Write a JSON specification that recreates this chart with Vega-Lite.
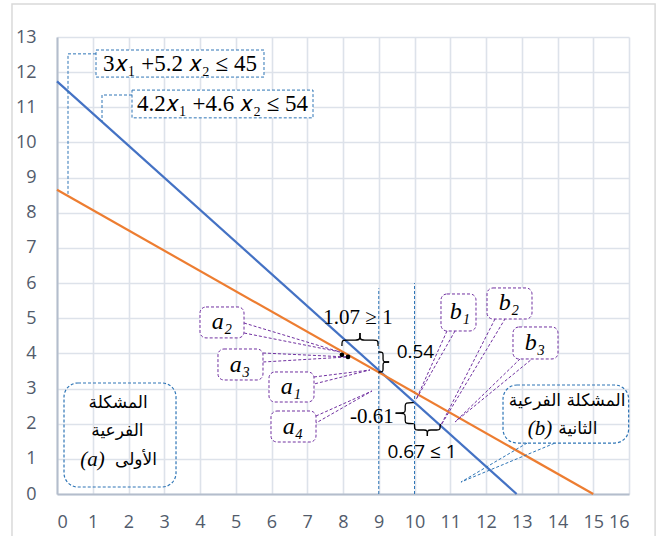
{
  "$schema": "https://vega.github.io/schema/vega-lite/v6.json",
  "width": 572,
  "height": 457,
  "autosize": "none",
  "padding": {"left": 57, "top": 37, "right": 29, "bottom": 42},
  "background": "white",
  "config": {
    "view": {"stroke": null},
    "axis": {
      "grid": true,
      "gridColor": "#dde2ea",
      "gridWidth": 1.6,
      "domainColor": "#b4bdcc",
      "domainWidth": 2,
      "ticks": false,
      "tickSize": 0,
      "labelOverlap": false,
      "labelFont": "Open Sans",
      "labelFontSize": 18,
      "labelColor": "#525b6b"
    }
  },
  "datasets": {
    "frame": [{"x": -1.259, "x2": 16.73, "y": 13.94, "y2": -1.5}],
    "constraints": [
      {"s": "blue", "x": 0, "y": 11.739},
      {"s": "blue", "x": 12.857, "y": 0},
      {"s": "orange", "x": 0, "y": 8.654},
      {"s": "orange", "x": 15, "y": 0}
    ],
    "branchLines": [
      {"x": 9, "y": 0, "y2": 5.85},
      {"x": 10, "y": 0, "y2": 6.0}
    ],
    "blueLeaders": [
      {"id": "e1", "o": 1, "x": 1.091, "y": 12.52},
      {"id": "e1", "o": 2, "x": 0.308, "y": 12.52},
      {"id": "e1", "o": 3, "x": 0.308, "y": 8.48},
      {"id": "e2", "o": 1, "x": 2.098, "y": 11.35},
      {"id": "e2", "o": 2, "x": 1.259, "y": 11.35},
      {"id": "e2", "o": 3, "x": 1.259, "y": 10.59},
      {"id": "pb", "o": 1, "x": 13.15, "y": 1.45},
      {"id": "pb", "o": 2, "x": 11.3, "y": 0.34},
      {"id": "pb", "o": 3, "x": 13.93, "y": 1.45}
    ],
    "eqBoxes": [
      {"x": 1.091, "x2": 5.79, "y": 12.63, "y2": 11.86},
      {"x": 2.098, "x2": 7.161, "y": 11.49, "y2": 10.7}
    ],
    "eqText": [
      {"x": 3.44, "y": 12.23, "t": "3𝑥₁ +5.2 𝑥₂ ≤ 45"},
      {"x": 4.63, "y": 11.08, "t": "4.2𝑥₁ +4.6 𝑥₂ ≤ 54"}
    ],
    "problemBoxes": [
      {"x": 0.196, "x2": 3.329, "y": 3.158, "y2": 0.199},
      {"x": 12.476, "x2": 15.99, "y": 3.1, "y2": 1.45}
    ],
    "arabicText": [
      {"x": 1.71, "y": 2.59, "t": "المشكلة"},
      {"x": 1.69, "y": 1.79, "t": "الفرعية"},
      {"x": 2.21, "y": 0.967, "t": "الأولى"},
      {"x": 14.27, "y": 2.65, "t": "المشكلة الفرعية"},
      {"x": 14.57, "y": 1.85, "t": "الثانية"}
    ],
    "latinTags": [
      {"x": 0.99, "y": 0.967, "t": "(a)"},
      {"x": 13.51, "y": 1.85, "t": "(b)"}
    ],
    "nodeBoxes": [
      {"n": "a2", "x": 4.0, "x2": 5.231, "y": 5.32, "y2": 4.44},
      {"n": "a3", "x": 4.503, "x2": 5.762, "y": 4.125, "y2": 3.243},
      {"n": "a1", "x": 5.93, "x2": 7.189, "y": 3.471, "y2": 2.617},
      {"n": "a4", "x": 5.986, "x2": 7.245, "y": 2.361, "y2": 1.479},
      {"n": "b1", "x": 10.741, "x2": 11.72, "y": 5.69, "y2": 4.637},
      {"n": "b2", "x": 12.028, "x2": 13.287, "y": 5.861, "y2": 4.979},
      {"n": "b3", "x": 12.755, "x2": 14.014, "y": 4.751, "y2": 3.841}
    ],
    "nodeText": [
      {"x": 4.615, "y": 4.89, "t": "a₂"},
      {"x": 5.119, "y": 3.67, "t": "a₃"},
      {"x": 6.545, "y": 3.044, "t": "a₁"},
      {"x": 6.601, "y": 1.906, "t": "a₄"},
      {"x": 11.273, "y": 5.178, "t": "b₁"},
      {"x": 12.643, "y": 5.434, "t": "b₂"},
      {"x": 13.371, "y": 4.296, "t": "b₃"}
    ],
    "nodeWedges": [
      {"id": "a2", "o": 1, "x": 5.231, "y": 4.865},
      {"id": "a2", "o": 2, "x": 7.916, "y": 4.04},
      {"id": "a2", "o": 3, "x": 5.231, "y": 4.58},
      {"id": "a3", "o": 1, "x": 5.762, "y": 4.011},
      {"id": "a3", "o": 2, "x": 8.112, "y": 3.898},
      {"id": "a3", "o": 3, "x": 5.762, "y": 3.755},
      {"id": "a1", "o": 1, "x": 7.189, "y": 3.329},
      {"id": "a1", "o": 2, "x": 8.755, "y": 3.528},
      {"id": "a1", "o": 3, "x": 7.189, "y": 3.129},
      {"id": "a4", "o": 1, "x": 7.245, "y": 2.219},
      {"id": "a4", "o": 2, "x": 8.811, "y": 2.93},
      {"id": "a4", "o": 3, "x": 7.245, "y": 2.02},
      {"id": "b1", "o": 1, "x": 10.909, "y": 4.637},
      {"id": "b1", "o": 2, "x": 10.05, "y": 2.7},
      {"id": "b1", "o": 3, "x": 11.133, "y": 4.637},
      {"id": "b2", "o": 1, "x": 12.252, "y": 4.979},
      {"id": "b2", "o": 2, "x": 10.713, "y": 1.906},
      {"id": "b2", "o": 3, "x": 12.531, "y": 4.979},
      {"id": "b3", "o": 1, "x": 12.951, "y": 3.841},
      {"id": "b3", "o": 2, "x": 11.133, "y": 2.048},
      {"id": "b3", "o": 3, "x": 13.287, "y": 3.841}
    ],
    "dots": [
      {"x": 7.97, "y": 3.96},
      {"x": 8.14, "y": 3.9}
    ],
    "braces": [
      {"id": "A1", "o": 1, "x": 7.97, "y": 4.21},
      {"id": "A1", "o": 2, "x": 7.97, "y": 4.38},
      {"id": "A1", "o": 3, "x": 8.07, "y": 4.38},
      {"id": "A1", "o": 4, "x": 8.375, "y": 4.38},
      {"id": "A1", "o": 5, "x": 8.475, "y": 4.38},
      {"id": "A1", "o": 6, "x": 8.475, "y": 4.58},
      {"id": "A2", "o": 1, "x": 8.98, "y": 4.21},
      {"id": "A2", "o": 2, "x": 8.98, "y": 4.38},
      {"id": "A2", "o": 3, "x": 8.88, "y": 4.38},
      {"id": "A2", "o": 4, "x": 8.575, "y": 4.38},
      {"id": "A2", "o": 5, "x": 8.475, "y": 4.38},
      {"id": "A2", "o": 6, "x": 8.475, "y": 4.58},
      {"id": "B1", "o": 1, "x": 8.99, "y": 4.04},
      {"id": "B1", "o": 2, "x": 9.12, "y": 4.04},
      {"id": "B1", "o": 3, "x": 9.12, "y": 3.96},
      {"id": "B1", "o": 4, "x": 9.12, "y": 3.835},
      {"id": "B1", "o": 5, "x": 9.12, "y": 3.755},
      {"id": "B1", "o": 6, "x": 9.29, "y": 3.755},
      {"id": "B2", "o": 1, "x": 8.99, "y": 3.47},
      {"id": "B2", "o": 2, "x": 9.12, "y": 3.47},
      {"id": "B2", "o": 3, "x": 9.12, "y": 3.55},
      {"id": "B2", "o": 4, "x": 9.12, "y": 3.675},
      {"id": "B2", "o": 5, "x": 9.12, "y": 3.755},
      {"id": "B2", "o": 6, "x": 9.29, "y": 3.755},
      {"id": "C1", "o": 1, "x": 9.98, "y": 2.6},
      {"id": "C1", "o": 2, "x": 9.74, "y": 2.6},
      {"id": "C1", "o": 3, "x": 9.74, "y": 2.52},
      {"id": "C1", "o": 4, "x": 9.74, "y": 2.38},
      {"id": "C1", "o": 5, "x": 9.74, "y": 2.3},
      {"id": "C1", "o": 6, "x": 9.47, "y": 2.3},
      {"id": "C2", "o": 1, "x": 9.98, "y": 2.0},
      {"id": "C2", "o": 2, "x": 9.74, "y": 2.0},
      {"id": "C2", "o": 3, "x": 9.74, "y": 2.08},
      {"id": "C2", "o": 4, "x": 9.74, "y": 2.22},
      {"id": "C2", "o": 5, "x": 9.74, "y": 2.3},
      {"id": "C2", "o": 6, "x": 9.47, "y": 2.3},
      {"id": "D1", "o": 1, "x": 10.0, "y": 1.99},
      {"id": "D1", "o": 2, "x": 10.0, "y": 1.82},
      {"id": "D1", "o": 3, "x": 10.08, "y": 1.82},
      {"id": "D1", "o": 4, "x": 10.28, "y": 1.82},
      {"id": "D1", "o": 5, "x": 10.36, "y": 1.82},
      {"id": "D1", "o": 6, "x": 10.36, "y": 1.65},
      {"id": "D2", "o": 1, "x": 10.72, "y": 1.99},
      {"id": "D2", "o": 2, "x": 10.72, "y": 1.82},
      {"id": "D2", "o": 3, "x": 10.64, "y": 1.82},
      {"id": "D2", "o": 4, "x": 10.44, "y": 1.82},
      {"id": "D2", "o": 5, "x": 10.36, "y": 1.82},
      {"id": "D2", "o": 6, "x": 10.36, "y": 1.65}
    ],
    "noteCenterSerif": [{"x": 8.42, "y": 5.007, "t": "1.07 ≥ 1"}],
    "noteRightSerif": [{"x": 9.42, "y": 2.19, "t": "-0.61"}],
    "noteLeftSans": [{"x": 9.5, "y": 4.04, "t": "0.54"}],
    "noteCenterSans": [{"x": 10.21, "y": 1.195, "t": "0.67 ≤ 1"}]
  },
  "encoding": {
    "x": {"field": "x", "type": "quantitative", "scale": {"domain": [0, 16], "nice": false, "zero": false}, "axis": {"title": null, "values": [0,1,2,3,4,5,6,7,8,9,10,11,12,13,14,15,16], "labelPadding": 19}},
    "y": {"field": "y", "type": "quantitative", "scale": {"domain": [0, 13], "nice": false, "zero": false}, "axis": {"title": null, "values": [0,1,2,3,4,5,6,7,8,9,10,11,12,13], "labelPadding": 21}}
  },
  "layer": [
    {
      "data": {"name": "frame"},
      "mark": {"type": "rect", "fill": null, "stroke": "#d9d9d9", "strokeWidth": 1.5},
      "encoding": {"x2": {"field": "x2"}, "y2": {"field": "y2"}}
    },
    {
      "data": {"name": "branchLines"},
      "mark": {"type": "rule", "stroke": "#2e75b6", "strokeWidth": 1, "strokeDash": [3, 2]},
      "encoding": {"y2": {"field": "y2"}}
    },
    {
      "data": {"name": "constraints"},
      "mark": {"type": "line", "strokeWidth": 2.2},
      "encoding": {
        "color": {"field": "s", "type": "nominal", "scale": {"domain": ["blue", "orange"], "range": ["#4472c4", "#ed7d31"]}, "legend": null}
      }
    },
    {
      "data": {"name": "blueLeaders"},
      "mark": {"type": "line", "stroke": "#2e75b6", "strokeWidth": 1, "strokeDash": [3, 2]},
      "encoding": {"detail": {"field": "id"}, "order": {"field": "o"}}
    },
    {
      "data": {"name": "eqBoxes"},
      "mark": {"type": "rect", "fill": "white", "stroke": "#2e75b6", "strokeWidth": 1, "strokeDash": [3, 2]},
      "encoding": {"x2": {"field": "x2"}, "y2": {"field": "y2"}}
    },
    {
      "data": {"name": "eqText"},
      "mark": {"type": "text", "font": "Liberation Serif", "fontSize": 23, "color": "black", "align": "center", "baseline": "middle"},
      "encoding": {"text": {"field": "t"}}
    },
    {
      "data": {"name": "problemBoxes"},
      "mark": {"type": "rect", "fill": null, "stroke": "#2e75b6", "strokeWidth": 1.2, "strokeDash": [3, 2], "cornerRadius": 14},
      "encoding": {"x2": {"field": "x2"}, "y2": {"field": "y2"}}
    },
    {
      "data": {"name": "arabicText"},
      "mark": {"type": "text", "font": "DejaVu Sans", "fontSize": 17, "color": "black", "align": "center", "baseline": "middle"},
      "encoding": {"text": {"field": "t"}}
    },
    {
      "data": {"name": "latinTags"},
      "mark": {"type": "text", "font": "Liberation Serif", "fontSize": 21, "fontStyle": "italic", "color": "black", "align": "center", "baseline": "middle"},
      "encoding": {"text": {"field": "t"}}
    },
    {
      "data": {"name": "nodeWedges"},
      "mark": {"type": "line", "stroke": "#7030a0", "strokeWidth": 1, "strokeDash": [3, 2]},
      "encoding": {"detail": {"field": "id"}, "order": {"field": "o"}}
    },
    {
      "data": {"name": "nodeBoxes"},
      "mark": {"type": "rect", "fill": "white", "stroke": "#7030a0", "strokeWidth": 1, "strokeDash": [3, 2], "cornerRadius": 6},
      "encoding": {"x2": {"field": "x2"}, "y2": {"field": "y2"}}
    },
    {
      "data": {"name": "nodeText"},
      "mark": {"type": "text", "font": "Liberation Serif", "fontSize": 24, "fontStyle": "italic", "color": "black", "align": "center", "baseline": "middle"},
      "encoding": {"text": {"field": "t"}}
    },
    {
      "data": {"name": "braces"},
      "mark": {"type": "line", "stroke": "black", "strokeWidth": 1.3, "interpolate": "basis"},
      "encoding": {"detail": {"field": "id"}, "order": {"field": "o"}}
    },
    {
      "data": {"name": "dots"},
      "mark": {"type": "point", "filled": true, "color": "black", "size": 22, "opacity": 1}
    },
    {
      "data": {"name": "noteCenterSerif"},
      "mark": {"type": "text", "font": "Liberation Serif", "fontSize": 21, "color": "black", "align": "center", "baseline": "middle"},
      "encoding": {"text": {"field": "t"}}
    },
    {
      "data": {"name": "noteRightSerif"},
      "mark": {"type": "text", "font": "Liberation Serif", "fontSize": 21, "color": "black", "align": "right", "baseline": "middle"},
      "encoding": {"text": {"field": "t"}}
    },
    {
      "data": {"name": "noteLeftSans"},
      "mark": {"type": "text", "font": "Open Sans", "fontSize": 19, "color": "black", "align": "left", "baseline": "middle"},
      "encoding": {"text": {"field": "t"}}
    },
    {
      "data": {"name": "noteCenterSans"},
      "mark": {"type": "text", "font": "Open Sans", "fontSize": 19, "color": "black", "align": "center", "baseline": "middle"},
      "encoding": {"text": {"field": "t"}}
    }
  ]
}
